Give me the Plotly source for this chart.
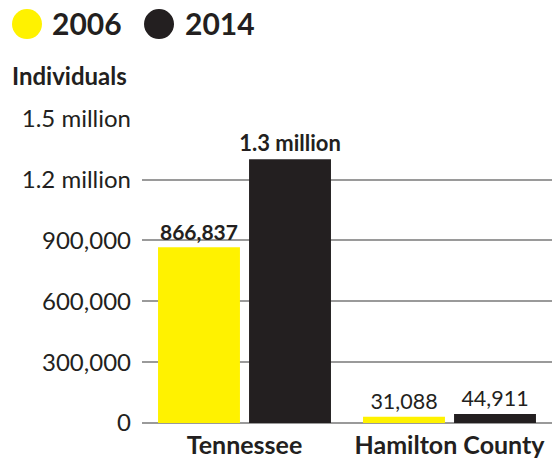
import plotly.graph_objects as go

categorias = ["Tennessee", "Hamilton County"]
valores_2006 = [866837, 31088]
valores_2014 = [1300000, 44911]
etiquetas_2006 = ["866,837", "31,088"]
etiquetas_2014 = ["1.3 million", "44,911"]
ticks_y = [0, 300000, 600000, 900000, 1200000, 1500000]
ticks_y_texto = ["0", "300,000", "600,000", "900,000", "1.2 million", "1.5 million"]
series = ["2006", "2014"]

AMARILLO = "#FFF200"
NEGRO = "#231F20"
GRIS = "#9a9a9a"
FUENTE = "Lato"

fig = go.Figure()
fig.add_trace(
    go.Bar(
        x=categorias,
        y=valores_2006,
        name=series[0],
        marker=dict(color=AMARILLO, line=dict(width=0)),
        text=etiquetas_2006,
        textposition="outside",
        constraintext="none",
        textfont=dict(family=FUENTE, size=[21, 21.5], color=NEGRO, weight=["bold", "normal"]),
        cliponaxis=False,
    )
)
fig.add_trace(
    go.Bar(
        x=categorias,
        y=valores_2014,
        name=series[1],
        marker=dict(color=NEGRO, line=dict(width=0)),
        text=etiquetas_2014,
        textposition="outside",
        constraintext="none",
        textfont=dict(family=FUENTE, size=[22, 21.5], color=NEGRO, weight=["bold", "normal"]),
        cliponaxis=False,
    )
)

# leyenda dibujada a mano: circulo + texto
for xc, xt, nombre, color in [(-0.2805, -0.2244, series[0], AMARILLO), (0.0415, 0.10, series[1], NEGRO)]:
    fig.add_shape(
        type="circle",
        xref="paper",
        yref="paper",
        xsizemode="pixel",
        ysizemode="pixel",
        xanchor=xc,
        yanchor=1.308,
        x0=-15,
        x1=15,
        y0=-15,
        y1=15,
        fillcolor=color,
        line=dict(width=0),
    )
    fig.add_annotation(
        text=nombre,
        xref="paper",
        yref="paper",
        x=xt,
        y=1.308,
        yshift=1,
        xanchor="left",
        yanchor="middle",
        showarrow=False,
        font=dict(family=FUENTE, size=30, color=NEGRO, weight="bold"),
    )

fig.add_annotation(
    text="Individuals",
    xref="paper",
    yref="paper",
    x=-0.322,
    y=1.138,
    xanchor="left",
    yanchor="middle",
    showarrow=False,
    font=dict(family=FUENTE, size=24, color=NEGRO, weight="bold"),
)

fig.update_xaxes(
    tickfont=dict(family=FUENTE, size=25, color=NEGRO, weight="bold"),
    showline=False,
    showgrid=False,
    ticks="",
    ticklabelstandoff=5,
    automargin=False,
)
fig.update_yaxes(
    range=[0, 1504000],
    tickvals=ticks_y,
    ticktext=ticks_y_texto,
    tickfont=dict(family=FUENTE, size=24, color=NEGRO),
    showgrid=True,
    gridcolor=GRIS,
    gridwidth=1.5,
    zeroline=True,
    zerolinecolor=GRIS,
    zerolinewidth=1.5,
    ticklabelstandoff=10,
    automargin=False,
)
fig.update_layout(
    width=552,
    height=460,
    margin=dict(l=142, r=0, t=118, b=37),
    barmode="group",
    bargap=0.112,
    bargroupgap=0.1,
    showlegend=False,
    plot_bgcolor="#ffffff",
    paper_bgcolor="#ffffff",
)

fig.write_html(
    "out.html",
    config={"displayModeBar": False},
    post_script="document.body.style.margin='0';",
)
